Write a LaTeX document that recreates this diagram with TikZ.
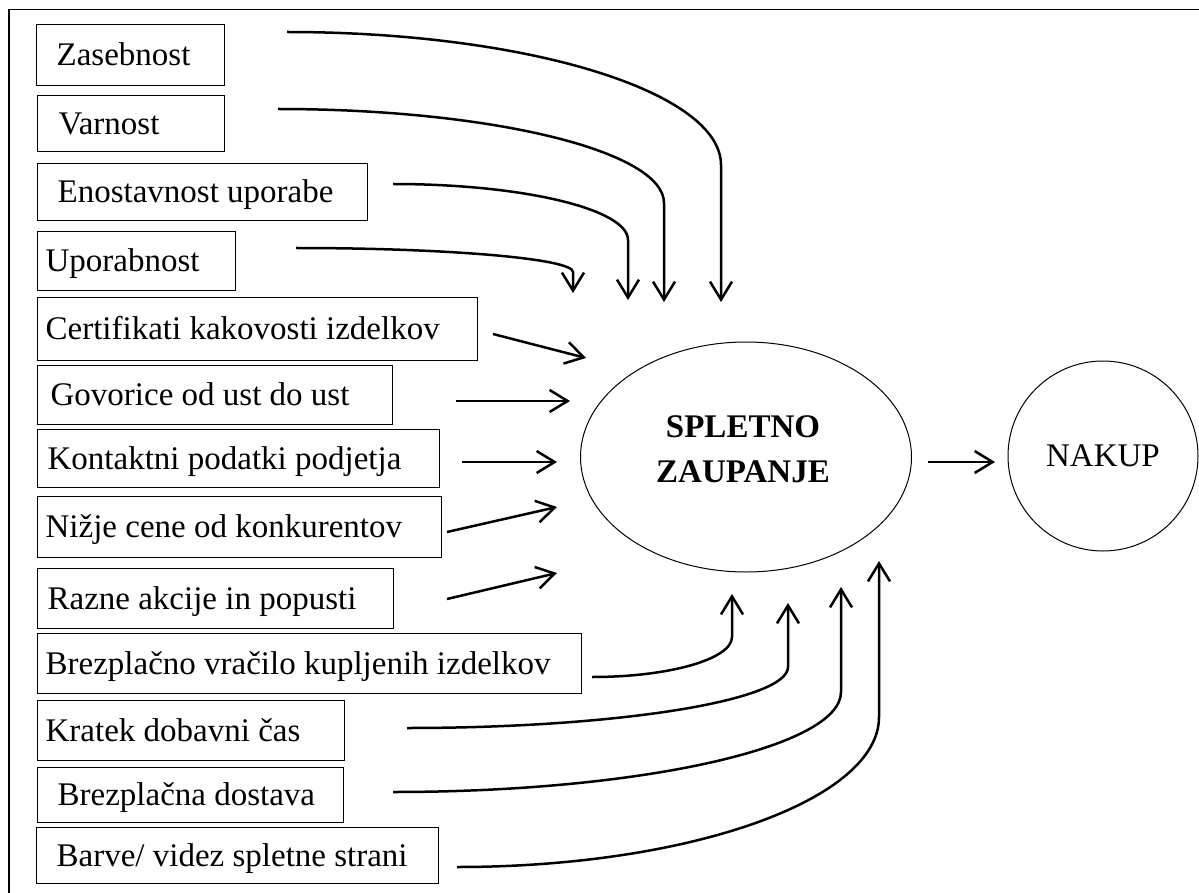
\documentclass[tikz,border=0pt]{standalone}
\usepackage{fontspec}
\setmainfont{Liberation Serif}
\usetikzlibrary{arrows.meta,calc,shapes.geometric}
\newcommand{\bx}[3]{\makebox[#1pt][l]{\hspace*{#2pt}#3}}
\newcommand{\qarr}[3]{\draw[arr] (#1) .. controls ($(#1)!0.552!(#1-|#2)$) and ($(#2)!0.552!(#1-|#2)$) .. (#2) -- (#3);}
\tikzset{
  txt/.style={font=\fontsize{33}{45}\selectfont},
  box/.style={txt, draw, line width=1.3pt, anchor=north west, inner sep=0pt, text height=25pt, text depth=4pt},
  arr/.style={line width=2.5pt, -{Straight Barb[length=18pt,width=22pt]}},
  oval/.style={draw, line width=1pt, inner sep=0pt}
}
\begin{document}
\begin{tikzpicture}[x=1pt,y=-1pt]
\useasboundingbox (0,0) rectangle (1199,893);
% frame
\draw[line width=1.5pt] (9,893) -- (9,9.5) -- (1199,9.5);
% boxes
\node[box, minimum height=61pt] (b1) at (36,24) {\bx{188}{20}{Zasebnost}};
\node[box, minimum height=56pt] (b2) at (37,95) {\bx{187}{21}{Varnost}};
\node[box, minimum height=57pt] (b3) at (37,163) {\bx{330}{20}{Enostavnost uporabe}};
\node[box, minimum height=59pt] (b4) at (37,231) {\bx{198}{8}{Uporabnost}};
\node[box, minimum height=63pt] (b5) at (37,297) {\bx{440}{8}{Certifikati kakovosti izdelkov}};
\node[box, minimum height=59pt] (b6) at (37,365) {\bx{355}{13}{Govorice od ust do ust}};
\node[box, minimum height=58pt] (b7) at (37,429) {\bx{402}{10}{Kontaktni podatki podjetja}};
\node[box, minimum height=61pt] (b8) at (37,496) {\bx{404}{8}{Nižje cene od konkurentov}};
\node[box, minimum height=60pt] (b9) at (37,568) {\bx{356}{10}{Razne akcije in popusti}};
\node[box, minimum height=60pt] (b10) at (37,633) {\bx{544}{8}{Brezplačno vračilo kupljenih izdelkov}};
\node[box, minimum height=60pt] (b11) at (37,700) {\bx{307}{8}{Kratek dobavni čas}};
\node[box, minimum height=55pt] (b12) at (37,767) {\bx{306}{20}{Brezplačna dostava}};
\node[box, minimum height=56pt] (b13) at (36,827) {\bx{402}{20}{Barve/ videz spletne strani}};
% central ellipse and target circle
\node[oval, ellipse, minimum width=331pt, minimum height=230pt] (trust) at (746,457) {};
\node[font=\fontsize{33}{45}\selectfont\bfseries, align=center] (trusttxt) at (743,449) {SPLETNO\\ZAUPANJE};
\node[oval, circle, minimum size=190pt, txt] (nakup) at (1103,456) {NAKUP};
% connector end points
\coordinate (S1) at (287,32);  \coordinate (C1) at (721,165); \coordinate (T1) at (721,302);
\coordinate (S2) at (278,109); \coordinate (C2) at (664,203); \coordinate (T2) at (664,302);
\coordinate (S3) at (393,184); \coordinate (C3) at (628,240); \coordinate (T3) at (628,300);
\coordinate (S4) at (296,248); \coordinate (C4) at (573,272); \coordinate (T4) at (573,293);
\coordinate (S5) at (493,334); \coordinate (T5) at (586,358);
\coordinate (S6) at (456,401); \coordinate (T6) at (570,401);
\coordinate (S7) at (462,462); \coordinate (T7) at (557,462);
\coordinate (S8) at (447,532); \coordinate (T8) at (557,507);
\coordinate (S9) at (447,599); \coordinate (T9) at (557,573);
\coordinate (S10) at (592,677); \coordinate (C10) at (732,637); \coordinate (T10) at (732,594);
\coordinate (S11) at (407,728); \coordinate (C11) at (788,667); \coordinate (T11) at (788,603);
\coordinate (S12) at (393,792); \coordinate (C12) at (841,692); \coordinate (T12) at (841,587);
\coordinate (S13) at (457,867); \coordinate (C13) at (879,717); \coordinate (T13) at (879,561);
\coordinate (N0) at (928,462); \coordinate (N1) at (995,462);
% connectors
\qarr{S1}{C1}{T1}
\qarr{S2}{C2}{T2}
\qarr{S3}{C3}{T3}
\qarr{S4}{C4}{T4}
\draw[arr] (S5) -- (T5);
\draw[arr] (S6) -- (T6);
\draw[arr] (S7) -- (T7);
\draw[arr] (S8) -- (T8);
\draw[arr] (S9) -- (T9);
\qarr{S10}{C10}{T10}
\qarr{S11}{C11}{T11}
\qarr{S12}{C12}{T12}
\qarr{S13}{C13}{T13}
\draw[arr] (N0) -- (N1);
\end{tikzpicture}
\end{document}
